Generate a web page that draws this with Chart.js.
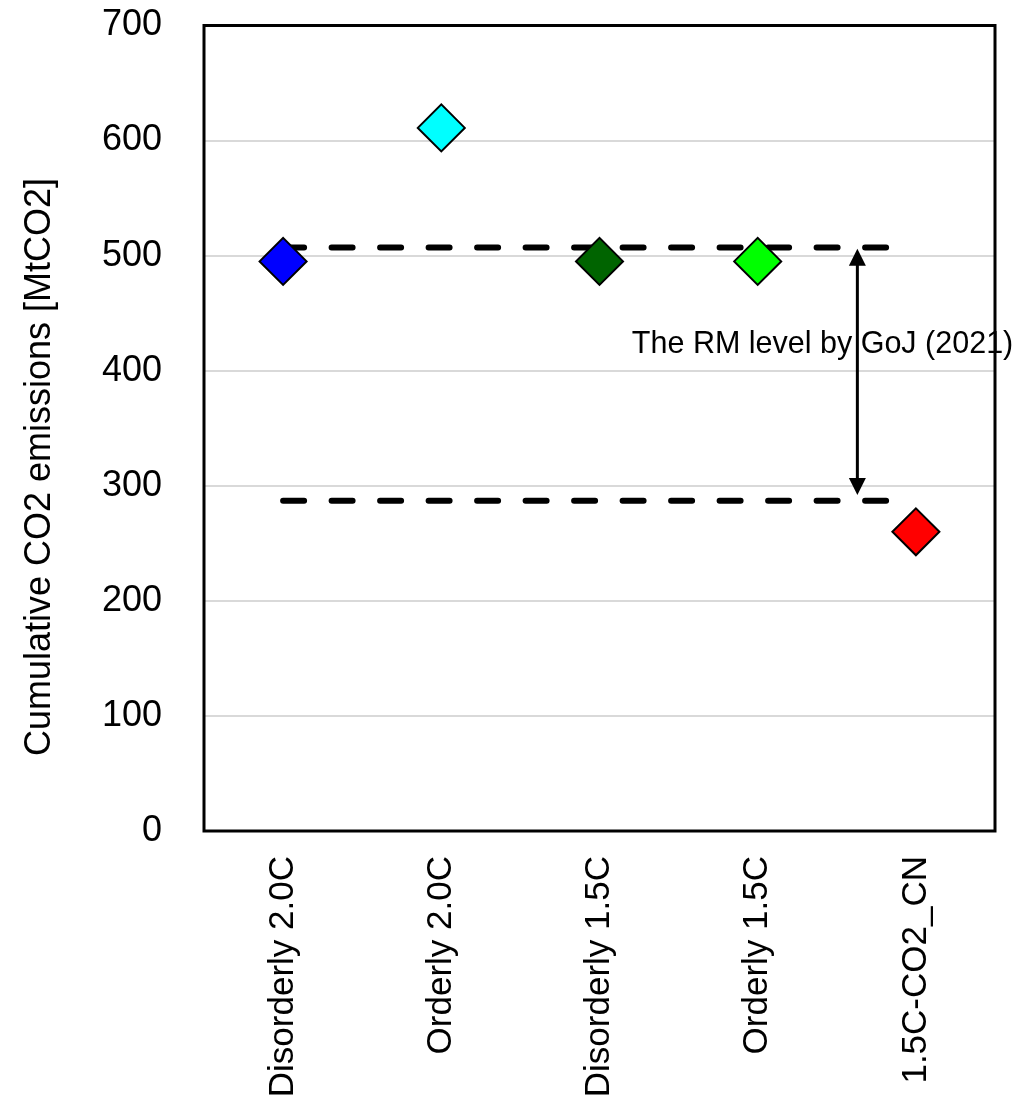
<!DOCTYPE html>
<html>
<head>
<meta charset="utf-8">
<script src="https://cdn.jsdelivr.net/npm/chart.js@4.4.1/dist/chart.umd.min.js"></script>
<style>
  html, body { margin: 0; padding: 0; background: #fff; }
  #wrap { width: 1036px; height: 1110px; position: relative; }
</style>
</head>
<body>
<div id="wrap"><canvas id="chart"></canvas></div>
<script>
// Scenario categories and cumulative emissions (MtCO2)
const categories = ['Disorderly 2.0C', 'Orderly 2.0C', 'Disorderly 1.5C', 'Orderly 1.5C', '1.5C-CO2_CN'];
const emissions = [495, 611, 495, 495, 260];
const markerColors = ['#0000ff', '#00ffff', '#006400', '#00ff00', '#ff0000'];

// Reduction-measure range (upper / lower reference levels)
const rmUpper = 507;
const rmLower = 287;
const rmLineStart = 0;
const rmLineEnd = 3.82;
const arrowX = 3.63;
const arrowTop = 506;
const arrowBottom = 292;
const rmLabel = 'The RM level by GoJ (2021)';
const rmLabelPos = { x: 3.41, y: 415 };

const yTicks = [0, 100, 200, 300, 400, 500, 600, 700];
const yTitle = 'Cumulative CO2 emissions [MtCO2]';

const FONT = '"Liberation Sans", Arial, sans-serif';

const overlay = {
  id: 'overlay',
  afterDatasetsDraw(chart) {
    const { ctx, scales: { x, y } } = chart;
    ctx.save();
    // double-headed arrow between the two levels
    const px = x.getPixelForValue(arrowX);
    const yt = y.getPixelForValue(arrowTop);
    const yb = y.getPixelForValue(arrowBottom);
    const head = 17, half = 8.5;
    ctx.strokeStyle = '#000';
    ctx.fillStyle = '#000';
    ctx.lineWidth = 3;
    ctx.beginPath();
    ctx.moveTo(px, yt + head - 2);
    ctx.lineTo(px, yb - head + 2);
    ctx.stroke();
    ctx.beginPath();
    ctx.moveTo(px, yt);
    ctx.lineTo(px - half, yt + head);
    ctx.lineTo(px + half, yt + head);
    ctx.closePath();
    ctx.fill();
    ctx.beginPath();
    ctx.moveTo(px, yb);
    ctx.lineTo(px - half, yb - head);
    ctx.lineTo(px + half, yb - head);
    ctx.closePath();
    ctx.fill();

    // label
    ctx.font = '30.5px ' + FONT;
    ctx.textAlign = 'center';
    ctx.textBaseline = 'alphabetic';
    ctx.fillText(rmLabel, x.getPixelForValue(rmLabelPos.x), y.getPixelForValue(rmLabelPos.y));
    ctx.restore();
  },
  afterDraw(chart) {
    const { ctx, chartArea: a } = chart;
    ctx.save();
    // plot frame
    ctx.strokeStyle = '#000';
    ctx.lineWidth = 3;
    ctx.strokeRect(a.left, a.top, a.right - a.left, a.bottom - a.top);
    // y-axis title
    ctx.font = '36px ' + FONT;
    ctx.fillStyle = '#000';
    ctx.textAlign = 'center';
    ctx.textBaseline = 'middle';
    ctx.translate(40, 467);
    ctx.rotate(-Math.PI / 2);
    ctx.fillText(yTitle, 0, 0);
    ctx.restore();
  }
};

new Chart(document.getElementById('chart'), {
  type: 'scatter',
  data: {
    datasets: [
      {
        type: 'scatter',
        data: emissions.map((v, i) => ({ x: i, y: v })),
        pointStyle: 'rectRot',
        pointRadius: 23.5,
        pointHoverRadius: 23.5,
        backgroundColor: markerColors,
        borderColor: '#000',
        borderWidth: 2,
        order: 1
      },
      {
        type: 'line',
        data: [{ x: rmLineStart, y: rmUpper }, { x: rmLineEnd, y: rmUpper }],
        borderColor: '#000',
        borderWidth: 6,
        borderDash: [21, 27.5],
        borderCapStyle: 'round',
        pointRadius: 0,
        fill: false,
        order: 2
      },
      {
        type: 'line',
        data: [{ x: rmLineStart, y: rmLower }, { x: rmLineEnd, y: rmLower }],
        borderColor: '#000',
        borderWidth: 6,
        borderDash: [21, 27.5],
        borderCapStyle: 'round',
        pointRadius: 0,
        fill: false,
        order: 2
      }
    ]
  },
  options: {
    responsive: true,
    maintainAspectRatio: false,
    animation: false,
    layout: { padding: { top: 22, right: 41, left: 0, bottom: 0 } },
    plugins: { legend: { display: false }, tooltip: { enabled: false } },
    scales: {
      x: {
        type: 'linear',
        min: -0.5,
        max: 4.5,
        afterBuildTicks(scale) { scale.ticks = categories.map((c, i) => ({ value: i })); },
        afterFit(scale) { scale.height = 279; },
        grid: { display: false, drawTicks: true, tickLength: 25, tickColor: 'rgba(0,0,0,0)' },
        border: { display: false },
        ticks: {
          autoSkip: false,
          maxRotation: 90,
          minRotation: 90,
          padding: 0,
          color: '#000',
          font: { family: FONT, size: 35 },
          callback: (v) => categories[v]
        }
      },
      y: {
        min: 0,
        max: 700,
        afterBuildTicks(scale) { scale.ticks = yTicks.map(v => ({ value: v })); },
        afterFit(scale) { scale.width = 204; },
        grid: { color: '#d9d9d9', lineWidth: 2, drawTicks: true, tickLength: 42, tickColor: 'rgba(0,0,0,0)' },
        border: { display: false },
        ticks: {
          padding: 0,
          color: '#000',
          font: { family: FONT, size: 36 }
        }
      }
    }
  },
  plugins: [overlay]
});
</script>
</body>
</html>
